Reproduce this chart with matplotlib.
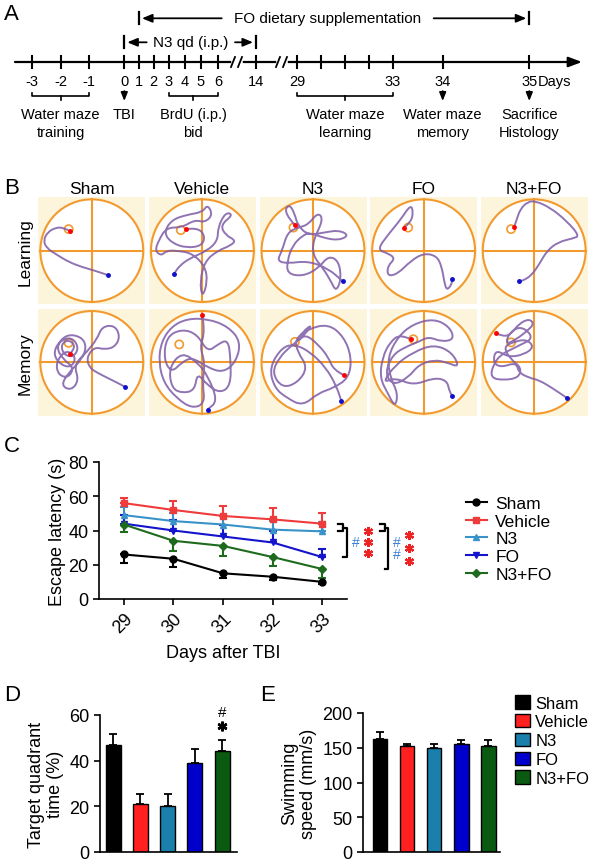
import numpy as np
import matplotlib
matplotlib.use('Agg')
import matplotlib.pyplot as plt
from matplotlib.path import Path
from matplotlib.patches import PathPatch, Circle, Patch
from matplotlib.lines import Line2D

plt.rcParams['font.family'] = ['Liberation Sans', 'DejaVu Sans']

# ---------------- data ----------------
groups = ['Sham', 'Vehicle', 'N3', 'FO', 'N3+FO']

# panel A timeline
timeline_days = [-3, -2, -1, 0, 1, 2, 3, 4, 5, 6, 14, 29, 30, 31, 32, 33, 34, 35]
timeline_labels = ['-3', '-2', '-1', '0', '1', '2', '3', '4', '5', '6', '14', '29', '', '', '', '33', '34', '35']

# panel C escape latency
days = [29, 30, 31, 32, 33]
lat_sham = [26, 23.5, 15, 13, 10]
lat_vehicle = [56, 52, 48.5, 46.5, 44]
lat_n3 = [49, 45.5, 43.5, 40.5, 39.5]
lat_fo = [44, 40, 36.5, 33, 24.5]
lat_n3fo = [43.5, 34, 31, 24.5, 17.5]
err_sham = [5, 5, 3, 2, 1]          # drawn downwards
err_vehicle = [3, 5, 6, 6.5, 6]     # upwards
err_n3 = [5, 5, 5, 5, 5.5]          # upwards
err_fo = [5, 6, 6.5, 7, 4.5]        # upwards
err_n3fo = [4.5, 6, 6, 5.5, 5]      # downwards

# panel D / E
target_time = [47, 21.2, 20.3, 39, 44.2]
target_err = [4.5, 4, 5, 6, 5]
swim_speed = [163, 152, 150, 155, 153]
swim_err = [9, 3, 5, 6, 8]

# panel B swim paths (unit circle coords), platform positions
targets_learning = [(-0.45, 0.42), (-0.42, 0.4), (-0.38, 0.45), (-0.3, 0.45), (-0.45, 0.42)]
targets_memory = [(-0.45, 0.38), (-0.45, 0.35), (-0.35, 0.4), (-0.2, 0.45), (-0.45, 0.39)]

sham_l = [(-0.42, 0.38), (-0.55, 0.45), (-0.7, 0.45), (-0.86, 0.36), (-0.94, 0.2), (-0.88, 0.05),
          (-0.68, -0.08), (-0.45, -0.22), (-0.19, -0.32), (0.06, -0.39), (0.32, -0.48)]
vehicle_l = [(-0.32, 0.42), (-0.1, 0.45), (0.05, 0.3), (0.0, 0.1), (-0.3, 0.05), (-0.6, 0.15), (-0.75, 0.35),
             (-0.6, 0.6), (-0.3, 0.7), (0.0, 0.75), (0.1, 0.9), (0.2, 0.7), (0.05, 0.55), (-0.15, 0.6),
             (-0.4, 0.45), (-0.7, 0.45), (-0.85, 0.2), (-0.92, 0.0), (-0.8, -0.1), (-0.7, 0.0), (-0.5, 0.0),
             (-0.2, -0.05), (0.05, -0.3), (0.1, -0.6), (0.0, -0.92), (-0.05, -0.6), (0.05, -0.2), (0.3, 0.0),
             (0.55, 0.1), (0.65, 0.2), (0.45, 0.3), (0.35, 0.5), (0.6, 0.7), (0.45, 0.75), (0.3, 0.45),
             (0.3, 0.2), (0.1, 0.0), (-0.25, -0.15), (-0.45, -0.3), (-0.55, -0.45)]
n3_l = [(-0.35, 0.5), (-0.45, 0.6), (-0.55, 0.8), (-0.45, 0.9), (-0.35, 0.7), (-0.3, 0.5), (-0.1, 0.3),
        (0.2, 0.35), (0.5, 0.4), (0.7, 0.3), (0.5, 0.2), (0.2, 0.25), (-0.05, 0.35), (-0.2, 0.3), (-0.4, 0.1),
        (-0.5, -0.2), (-0.5, -0.45), (-0.2, -0.5), (0.1, -0.35), (0.3, -0.1), (0.5, -0.2), (0.55, -0.55),
        (0.45, -0.8), (0.35, -0.6), (0.2, -0.35), (0.0, -0.1), (0.0, 0.2), (0.2, 0.6), (0.1, 0.75),
        (-0.1, 0.5), (-0.3, 0.45), (-0.5, 0.35), (-0.6, 0.0), (-0.7, -0.2), (-0.5, -0.25), (-0.1, -0.2),
        (0.3, -0.35), (0.58, -0.6)]
fo_l = [(-0.38, 0.45), (-0.25, 0.55), (-0.2, 0.75), (-0.25, 0.9), (-0.45, 0.6), (-0.7, 0.3), (-0.9, 0.02),
        (-0.7, -0.05), (-0.55, -0.15), (-0.7, -0.3), (-0.7, -0.5), (-0.5, -0.45), (-0.25, -0.2), (0.0, -0.05),
        (0.25, -0.1), (0.35, -0.3), (0.4, -0.6), (0.45, -0.78), (0.55, -0.65), (0.55, -0.55)]
n3fo_l = [(-0.39, 0.46), (-0.34, 0.61), (-0.27, 0.81), (-0.13, 0.95), (0.02, 0.97), (0.31, 0.84),
          (0.63, 0.58), (0.88, 0.29), (0.76, 0.24), (0.47, 0.17), (0.25, 0.0), (0.1, -0.26),
          (-0.05, -0.48), (-0.21, -0.58), (-0.3, -0.6)]

sham_m = [(-0.42, 0.17), (-0.3, 0.3), (-0.45, 0.45), (-0.6, 0.35), (-0.55, 0.15), (-0.35, 0.1), (-0.25, 0.3),
          (-0.4, 0.5), (-0.65, 0.4), (-0.75, 0.15), (-0.6, -0.05), (-0.4, -0.1), (-0.3, 0.1), (-0.5, 0.25),
          (-0.7, 0.0), (-0.65, -0.25), (-0.45, -0.3), (-0.35, -0.1), (-0.55, 0.05), (-0.7, 0.3), (-0.5, 0.55),
          (-0.2, 0.5), (-0.1, 0.3), (-0.2, 0.05), (-0.45, -0.2), (-0.6, -0.45), (-0.4, -0.55), (-0.25, -0.35),
          (-0.35, -0.05), (-0.1, 0.2), (0.1, 0.45), (0.2, 0.7), (0.45, 0.72), (0.55, 0.5), (0.45, 0.3),
          (0.25, 0.25), (0.05, 0.3), (-0.1, 0.1), (-0.05, -0.1), (0.1, -0.2), (0.3, -0.3), (0.5, -0.4),
          (0.65, -0.48)]
vehicle_m = [(0.0, 0.92), (0.05, 0.6), (-0.05, 0.3), (0.05, 0.0), (0.0, -0.4), (0.05, -0.8), (-0.2, -0.9),
             (-0.5, -0.7), (-0.75, -0.4), (-0.85, 0.0), (-0.8, 0.4), (-0.6, 0.7), (-0.3, 0.85), (0.1, 0.85),
             (0.5, 0.7), (0.75, 0.4), (0.65, 0.0), (0.4, -0.2), (0.1, -0.1), (-0.2, 0.1), (-0.4, 0.0),
             (-0.6, -0.2), (-0.75, 0.05), (-0.7, 0.5), (-0.4, 0.65), (-0.1, 0.55), (0.1, 0.2), (0.3, 0.35),
             (0.5, 0.45), (0.55, 0.05), (0.55, -0.45), (0.35, -0.6), (0.1, -0.45), (-0.1, -0.2), (-0.15, -0.55),
             (-0.4, -0.6), (-0.6, -0.5), (-0.65, -0.1), (-0.4, 0.2), (-0.1, 0.0), (0.1, -0.25), (0.3, -0.75),
             (0.1, -0.92)]
n3_m = [(0.6, -0.25), (0.4, -0.15), (0.3, 0.1), (0.1, 0.35), (-0.15, 0.55), (-0.3, 0.4), (-0.2, 0.6),
        (0.0, 0.75), (-0.2, 0.5), (-0.45, 0.3), (-0.65, 0.1), (-0.8, -0.2), (-0.6, -0.5), (-0.3, -0.4),
        (-0.1, -0.1), (-0.3, 0.2), (-0.35, 0.45), (-0.1, 0.65), (0.3, 0.75), (0.6, 0.5), (0.75, 0.1),
        (0.7, -0.3), (0.4, -0.5), (0.1, -0.6), (-0.2, -0.85), (-0.5, -0.7), (-0.75, -0.5), (-0.85, -0.1),
        (-0.6, 0.3), (-0.35, 0.35), (-0.05, 0.2), (0.25, -0.1), (0.45, -0.45), (0.55, -0.75)]
fo_m = [(-0.25, 0.45), (-0.45, 0.55), (-0.65, 0.4), (-0.8, 0.1), (-0.85, -0.3), (-0.7, -0.6), (-0.55, -0.88),
        (-0.5, -0.6), (-0.65, -0.3), (-0.7, 0.1), (-0.5, 0.5), (-0.2, 0.75), (0.2, 0.85), (0.5, 0.7),
        (0.6, 0.45), (0.35, 0.4), (0.1, 0.5), (-0.1, 0.4), (-0.35, 0.3), (-0.6, 0.15), (-0.75, -0.2),
        (-0.6, -0.45), (-0.3, -0.3), (-0.1, -0.05), (0.2, 0.05), (0.45, 0.0), (0.7, -0.1), (0.55, 0.2),
        (0.2, 0.35), (-0.2, 0.2), (-0.55, -0.05), (-0.8, -0.4), (-0.55, -0.3), (-0.2, -0.45), (0.2, -0.3),
        (0.45, -0.35), (0.5, -0.55), (0.55, -0.65)]
n3fo_m = [(-0.75, 0.57), (-0.6, 0.5), (-0.45, 0.55), (-0.3, 0.75), (-0.1, 0.85), (0.0, 0.75), (-0.15, 0.6),
          (-0.35, 0.45), (-0.55, 0.35), (-0.5, 0.55), (-0.3, 0.7), (-0.1, 0.6), (-0.05, 0.45), (-0.25, 0.35),
          (-0.45, 0.25), (-0.65, 0.15), (-0.8, -0.05), (-0.85, -0.3), (-0.6, -0.35), (-0.3, -0.3),
          (-0.25, -0.1), (-0.45, 0.05), (-0.6, 0.3), (-0.4, 0.4), (-0.15, 0.45), (0.0, 0.3), (-0.2, 0.15),
          (-0.5, 0.1), (-0.75, 0.25), (-0.8, 0.0), (-0.65, -0.1), (-0.35, 0.0), (-0.3, -0.2), (-0.1, -0.3),
          (0.1, -0.35), (0.35, -0.5), (0.63, -0.69)]

# ---------------- style ----------------
line_colors = ['#000000', '#EE3B3B', '#3A93C8', '#1414CC', '#1E6B1E']
bar_colors = ['#000000', '#FF2020', '#1A7FAA', '#0000CD', '#0B5A12']
markers = ['o', 's', '^', 'v', 'D']
orange = '#F29A2E'
purple = '#7D5BA6'

W, H = 592, 862
fig = plt.figure(figsize=(W / 100, H / 100), dpi=100)


def add_ax(x0, y0, w, h):
    # pixel box (top-left origin) -> figure fraction
    return fig.add_axes([x0 / W, 1 - (y0 + h) / H, w / W, h / H])


# ---------------- panel A ----------------
axA = add_ax(0, 0, W, 170)
axA.set_xlim(0, W)
axA.set_ylim(170, 0)
axA.axis('off')

day_x = dict(zip(timeline_days, [32.3, 60.7, 89, 124.3, 139, 153.5, 168.5, 184.5, 201, 218,
                                 256, 297, 321, 345, 369, 392.7, 442.7, 529.3]))
ya = 63
axA.annotate('', xy=(582, ya), xytext=(15, ya),
             arrowprops=dict(arrowstyle='-|>,head_length=0.8,head_width=0.3', lw=1.6, color='k',
                             shrinkA=0, shrinkB=0))
for d, lab in zip(timeline_days, timeline_labels):
    x = day_x[d]
    axA.plot([x, x], [ya - 6, ya + 6], color='k', lw=1.5)
    if lab:
        axA.text(x, 82, lab, ha='center', va='center', fontsize=10.5)
axA.text(day_x[35] + 8, 82, 'Days', ha='left', va='center', fontsize=10.5)

for xb in [237, 282]:
    axA.plot([xb - 3, xb + 3], [ya, ya], color='white', lw=4, zorder=3)
    axA.plot([xb - 6, xb - 2], [ya + 5, ya - 5], color='k', lw=1.3, zorder=4)
    axA.plot([xb + 1, xb + 5], [ya + 5, ya - 5], color='k', lw=1.3, zorder=4)


def hbar_arrow(x_from, x_to, y):
    axA.annotate('', xy=(x_to, y), xytext=(x_from, y),
                 arrowprops=dict(arrowstyle='-|>,head_length=0.6,head_width=0.25', lw=1.3, color='k',
                                 shrinkA=0, shrinkB=0))


# FO dietary supplementation
yf = 19.3
for d in [1, 35]:
    axA.plot([day_x[d], day_x[d]], [yf - 6, yf + 6], color='k', lw=1.6)
axA.text(327.7, yf, 'FO dietary supplementation', ha='center', va='center', fontsize=11)
hbar_arrow(221.7, day_x[1] + 3, yf)
hbar_arrow(433.7, day_x[35] - 3, yf)

# N3 qd
yn = 43.3
for d in [0, 14]:
    axA.plot([day_x[d], day_x[d]], [yn - 6, yn + 6], color='k', lw=1.6)
axA.text(191, yn, 'N3 qd (i.p.)', ha='center', va='center', fontsize=11)
hbar_arrow(146.7, day_x[0] + 3, yn)
hbar_arrow(235, day_x[14] - 3, yn)


def under_bracket(d0, d1):
    x0, x1 = day_x[d0], day_x[d1]
    axA.plot([x0, x0, x1, x1], [93.5, 97, 97, 93.5], color='k', lw=1.2)
    xm = (x0 + x1) / 2
    axA.plot([xm, xm], [97, 101], color='k', lw=1.2)
    return xm


def under_arrow(d):
    x = day_x[d]
    axA.annotate('', xy=(x, 102), xytext=(x, 92),
                 arrowprops=dict(arrowstyle='-|>,head_length=0.5,head_width=0.2', lw=1.2, color='k',
                                 shrinkA=0, shrinkB=0))
    return x


def two_lines(x, l1, l2):
    axA.text(x, 115, l1, ha='center', va='center', fontsize=10.5)
    if l2:
        axA.text(x, 133, l2, ha='center', va='center', fontsize=10.5)


two_lines(under_bracket(-3, -1), 'Water maze', 'training')
two_lines(under_arrow(0), 'TBI', '')
two_lines(under_bracket(3, 6), 'BrdU (i.p.)', 'bid')
two_lines(under_bracket(29, 33), 'Water maze', 'learning')
two_lines(under_arrow(34), 'Water maze', 'memory')
two_lines(under_arrow(35), 'Sacrifice', 'Histology')


# ---------------- panel B ----------------
def smooth_path(pts):
    pts = np.asarray(pts, dtype=float)
    verts = [pts[0]]
    codes = [Path.MOVETO]
    for i in range(1, len(pts) - 1):
        verts += [pts[i], (pts[i] + pts[i + 1]) / 2]
        codes += [Path.CURVE3, Path.CURVE3]
    verts.append(pts[-1])
    codes.append(Path.LINETO)
    return Path(verts, codes)


paths = [[sham_l, vehicle_l, n3_l, fo_l, n3fo_l], [sham_m, vehicle_m, n3_m, fo_m, n3fo_m]]
targets = [targets_learning, targets_memory]
for r in range(2):
    for c in range(5):
        ax = add_ax(38.3 + c * 110.6, 198.3 + r * 111.7, 107, 106.7)
        ax.set_xlim(-1.04, 1.04)
        ax.set_ylim(-1.04, 1.04)
        ax.set_facecolor('#FDF4DC')
        ax.set_xticks([])
        ax.set_yticks([])
        for s in ax.spines.values():
            s.set_visible(False)
        ax.add_patch(Circle((0, 0), 1, facecolor='white', edgecolor=orange, lw=1.5, zorder=1))
        ax.plot([-1, 1], [0, 0], color=orange, lw=1.5, zorder=2)
        ax.plot([0, 0], [-1, 1], color=orange, lw=1.5, zorder=2)
        tx, ty = targets[r][c]
        ax.add_patch(Circle((tx, ty), 0.08, facecolor='none', edgecolor=orange, lw=1.2, zorder=3))
        pts = paths[r][c]
        ax.add_patch(PathPatch(smooth_path(pts), facecolor='none', edgecolor=purple, lw=1.4,
                               alpha=0.85, zorder=4))
        ax.plot(*pts[0], 'o', color='red', ms=2.5, zorder=5)
        ax.plot(*pts[-1], 'o', color='#1010CC', ms=2.5, zorder=5)
        if r == 0:
            ax.set_title(groups[c], fontsize=12.5, pad=3)
        if c == 0:
            ax.set_ylabel(['Learning', 'Memory'][r], fontsize=12.5, labelpad=4)

# ---------------- panel C ----------------
axC = add_ax(99, 463, 248, 137)
lat = [lat_sham, lat_vehicle, lat_n3, lat_fo, lat_n3fo]
errs = [err_sham, err_vehicle, err_n3, err_fo, err_n3fo]
down = [True, False, False, False, True]
for g, m, e, dn, col, mk in zip(groups, lat, errs, down, line_colors, markers):
    zero = [0] * len(e)
    yerr = [e, zero] if dn else [zero, e]
    axC.errorbar(days, m, yerr=yerr, color=col, marker=mk, ms=5 if mk != 'D' else 4, lw=1.5,
                 capsize=3, elinewidth=1.5, capthick=1.5)
axC.set_xlim(28.5, 33.5)
axC.set_ylim(0, 80)
axC.set_yticks([0, 20, 40, 60, 80])
axC.set_xticks(days)
axC.set_xticklabels([str(d) for d in days], rotation=45, ha='right', rotation_mode='anchor')
axC.tick_params(labelsize=13, width=1.2, length=4)
for s in ['top', 'right']:
    axC.spines[s].set_visible(False)
for s in ['left', 'bottom']:
    axC.spines[s].set_linewidth(1.2)
axC.set_ylabel('Escape latency (s)', fontsize=13, labelpad=2)
axC.set_xlabel('Days after TBI', fontsize=13, labelpad=6)

# significance brackets
v_end, n_end, f_end, c_end = lat_vehicle[-1], lat_n3[-1], lat_fo[-1], lat_n3fo[-1]
mid = (v_end + n_end) / 2
for xa, xb, xc, low, hx, sx, nh in [(33.32, 33.42, 33.50, f_end, 33.67, 33.92, 1),
                                    (34.17, 34.27, 34.33, c_end, 34.50, 34.74, 2)]:
    axC.plot([xa, xb, xb, xa], [v_end, v_end, n_end, n_end], color='k', lw=1.6, clip_on=False)
    axC.plot([xb, xc, xc, xb], [mid, mid, low, low], color='k', lw=1.6, clip_on=False)
    yc = (mid + low) / 2
    hashes = '#' if nh == 1 else '#\n#'
    axC.text(hx, yc, hashes, color='#3A7FD5', fontsize=10, ha='center', va='center',
             linespacing=0.8, clip_on=False)
    step = 6.5 if nh == 1 else 7.7
    axC.plot([sx] * 3, [yc + step, yc, yc - step], linestyle='none', marker=(6, 2, 0), ms=6.5,
             mew=1.6, color='#EE2222', clip_on=False)

leg_handles = [Line2D([0], [0], color=col, marker=mk, ms=5 if mk != 'D' else 4, lw=1.5)
               for col, mk in zip(line_colors, markers)]
fig.legend(leg_handles, groups, loc='upper left', bbox_to_anchor=(457 / W, 1 - 488 / H), frameon=False,
           fontsize=12.5, handlelength=1.2, handletextpad=0.5, labelspacing=0.15, borderpad=0)

# ---------------- panel D ----------------
pos = np.arange(5)
axD = add_ax(100, 716, 137, 137)
axD.bar(pos, target_time, width=0.55, color=bar_colors, edgecolor='k', lw=1,
        yerr=[[0] * 5, target_err], capsize=3, error_kw=dict(elinewidth=1.3, capthick=1.3))
axD.set_xlim(-0.48, 4.55)
axD.set_ylim(0, 60)
axD.set_yticks([0, 20, 40, 60])
axD.set_xticks([])
axD.tick_params(labelsize=13, width=1.2, length=4)
for s in ['top', 'right']:
    axD.spines[s].set_visible(False)
for s in ['left', 'bottom']:
    axD.spines[s].set_linewidth(1.2)
axD.set_ylabel('Target quadrant\ntime (%)', fontsize=13, linespacing=1.1, labelpad=4)
top = target_time[4] + target_err[4]
axD.plot([4], [top + 6], linestyle='none', marker=(6, 2, 0), ms=7, mew=1.8, color='k', clip_on=False)
axD.text(4, top + 12, '#', fontsize=11, ha='center', va='center', clip_on=False)

# ---------------- panel E ----------------
axE = add_ax(363, 714, 137, 139)
axE.bar(pos, swim_speed, width=0.55, color=bar_colors, edgecolor='k', lw=1,
        yerr=[[0] * 5, swim_err], capsize=3, error_kw=dict(elinewidth=1.3, capthick=1.3))
axE.set_xlim(-0.63, 4.44)
axE.set_ylim(0, 200)
axE.set_yticks([0, 50, 100, 150, 200])
axE.set_xticks([])
axE.tick_params(labelsize=13, width=1.2, length=4)
for s in ['top', 'right']:
    axE.spines[s].set_visible(False)
for s in ['left', 'bottom']:
    axE.spines[s].set_linewidth(1.2)
axE.set_ylabel('Swimming\nspeed (mm/s)', fontsize=13, linespacing=1.1, labelpad=4)

bar_handles = [Patch(facecolor=c, edgecolor='k', lw=1) for c in bar_colors]
fig.legend(bar_handles, groups, loc='upper left', bbox_to_anchor=(507 / W, 1 - 688 / H), frameon=False,
           fontsize=12, handlelength=0.85, handleheight=0.85, handletextpad=0.35, labelspacing=0.2,
           borderpad=0)

# ---------------- panel letters ----------------
for lab, x, y in [('A', 4, 15), ('B', 4, 188), ('C', 4, 447), ('D', 4, 696), ('E', 260, 696)]:
    fig.text(x / W, 1 - y / H, lab, fontsize=16, ha='left', va='center')

fig.savefig('out.png', dpi=100)
